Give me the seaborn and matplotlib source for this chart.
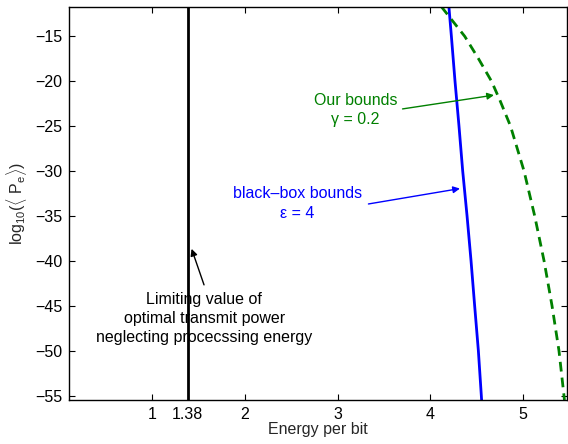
import numpy as np
import pandas as pd
import seaborn as sns
import matplotlib
matplotlib.use("Agg")
import matplotlib.pyplot as plt

# values
blackbox_log_pe = [-11.7, -15, -20, -25, -30, -35, -40, -45, -50, -55, -55.5]
blackbox_energy = [4.200, 4.227, 4.266, 4.309, 4.349, 4.396, 4.439, 4.478, 4.518, 4.550, 4.553]

ours_log_pe = [-11.7, -15, -17.5, -20, -22.1, -25, -30, -35, -40, -45, -50, -55, -55.5]
ours_energy = [4.119, 4.371, 4.520, 4.660, 4.750, 4.865, 5.011, 5.126, 5.227, 5.313, 5.388, 5.442, 5.447]

limit_energy = 1.38
xticks = [1, 1.38, 2, 3, 4, 5]
xtick_labels = ["1", "1.38", "2", "3", "4", "5"]
yticks = [-55, -50, -45, -40, -35, -30, -25, -20, -15]

sns.set_style("ticks")
plt.rcParams["font.family"] = ["Liberation Sans", "DejaVu Sans"]
plt.rcParams["mathtext.fontset"] = "custom"
plt.rcParams["mathtext.rm"] = "Liberation Sans"
plt.rcParams["mathtext.it"] = "Liberation Sans:italic"
fs = 11.5

fig = plt.figure(figsize=(5.68, 4.44), dpi=100)
ax = fig.add_axes([0.1215, 0.0991, 0.8776, 0.8858])

ylim = (-55.5, -11.7)
xlim = (0.1, 5.48)

df_bb = pd.DataFrame({"energy": blackbox_energy, "logpe": blackbox_log_pe})
df_ours = pd.DataFrame({"energy": ours_energy, "logpe": ours_log_pe})
df_lim = pd.DataFrame({"energy": [limit_energy, limit_energy], "logpe": list(ylim)})

sns.lineplot(data=df_lim, x="energy", y="logpe", ax=ax, color="black", lw=2,
             sort=False, estimator=None)
sns.lineplot(data=df_bb, x="energy", y="logpe", ax=ax, color=(0, 0, 1), lw=2,
             sort=False, estimator=None)
sns.lineplot(data=df_ours, x="energy", y="logpe", ax=ax, color=(0, 0.5, 0), lw=2,
             sort=False, estimator=None, linestyle=(0, (3.5, 2.2)))

ax.set_xlim(*xlim)
ax.set_ylim(*ylim)
ax.set_xticks(xticks)
ax.set_xticklabels(xtick_labels)
ax.set_yticks(yticks)
ax.tick_params(direction="in", top=True, right=True, length=4, width=0.8,
               labelsize=fs, pad=5, colors="black")
for s in ax.spines.values():
    s.set_visible(True)
    s.set_linewidth(1.0)
    s.set_color("black")

ax.set_xlabel("Energy per bit", fontsize=fs, labelpad=0)
ax.set_ylabel(r"log$_{\mathrm{10}}$($\langle$ P$_{\mathrm{e}}$$\rangle$)", fontsize=fs, labelpad=4)

green = (0, 0.5, 0)
ax.annotate("", xy=(4.716, -21.5), xytext=(3.67, -23.13),
            arrowprops=dict(arrowstyle="-|>", color=green, lw=1, mutation_scale=10))
ax.text(3.194, -23.2, "Our bounds\nγ = 0.2", color=green, ha="center", va="center",
        fontsize=fs, linespacing=1.4)

ax.annotate("", xy=(4.349, -31.9), xytext=(3.302, -33.72),
            arrowprops=dict(arrowstyle="-|>", color=(0, 0, 1), lw=1, mutation_scale=10))
ax.text(2.566, -33.6, "black–box bounds\nε = 4", color=(0, 0, 1), ha="center", va="center",
        fontsize=fs, linespacing=1.4)

ax.annotate("", xy=(1.413, -38.37), xytext=(1.567, -42.97),
            arrowprops=dict(arrowstyle="-|>", color="black", lw=1, mutation_scale=10))
ax.text(1.56, -46.4, "Limiting value of\noptimal transmit power\nneglecting procecssing energy",
        color="black", ha="center", va="center", fontsize=fs, linespacing=1.35)

fig.savefig("out.png", dpi=100)
plt.close(fig)
